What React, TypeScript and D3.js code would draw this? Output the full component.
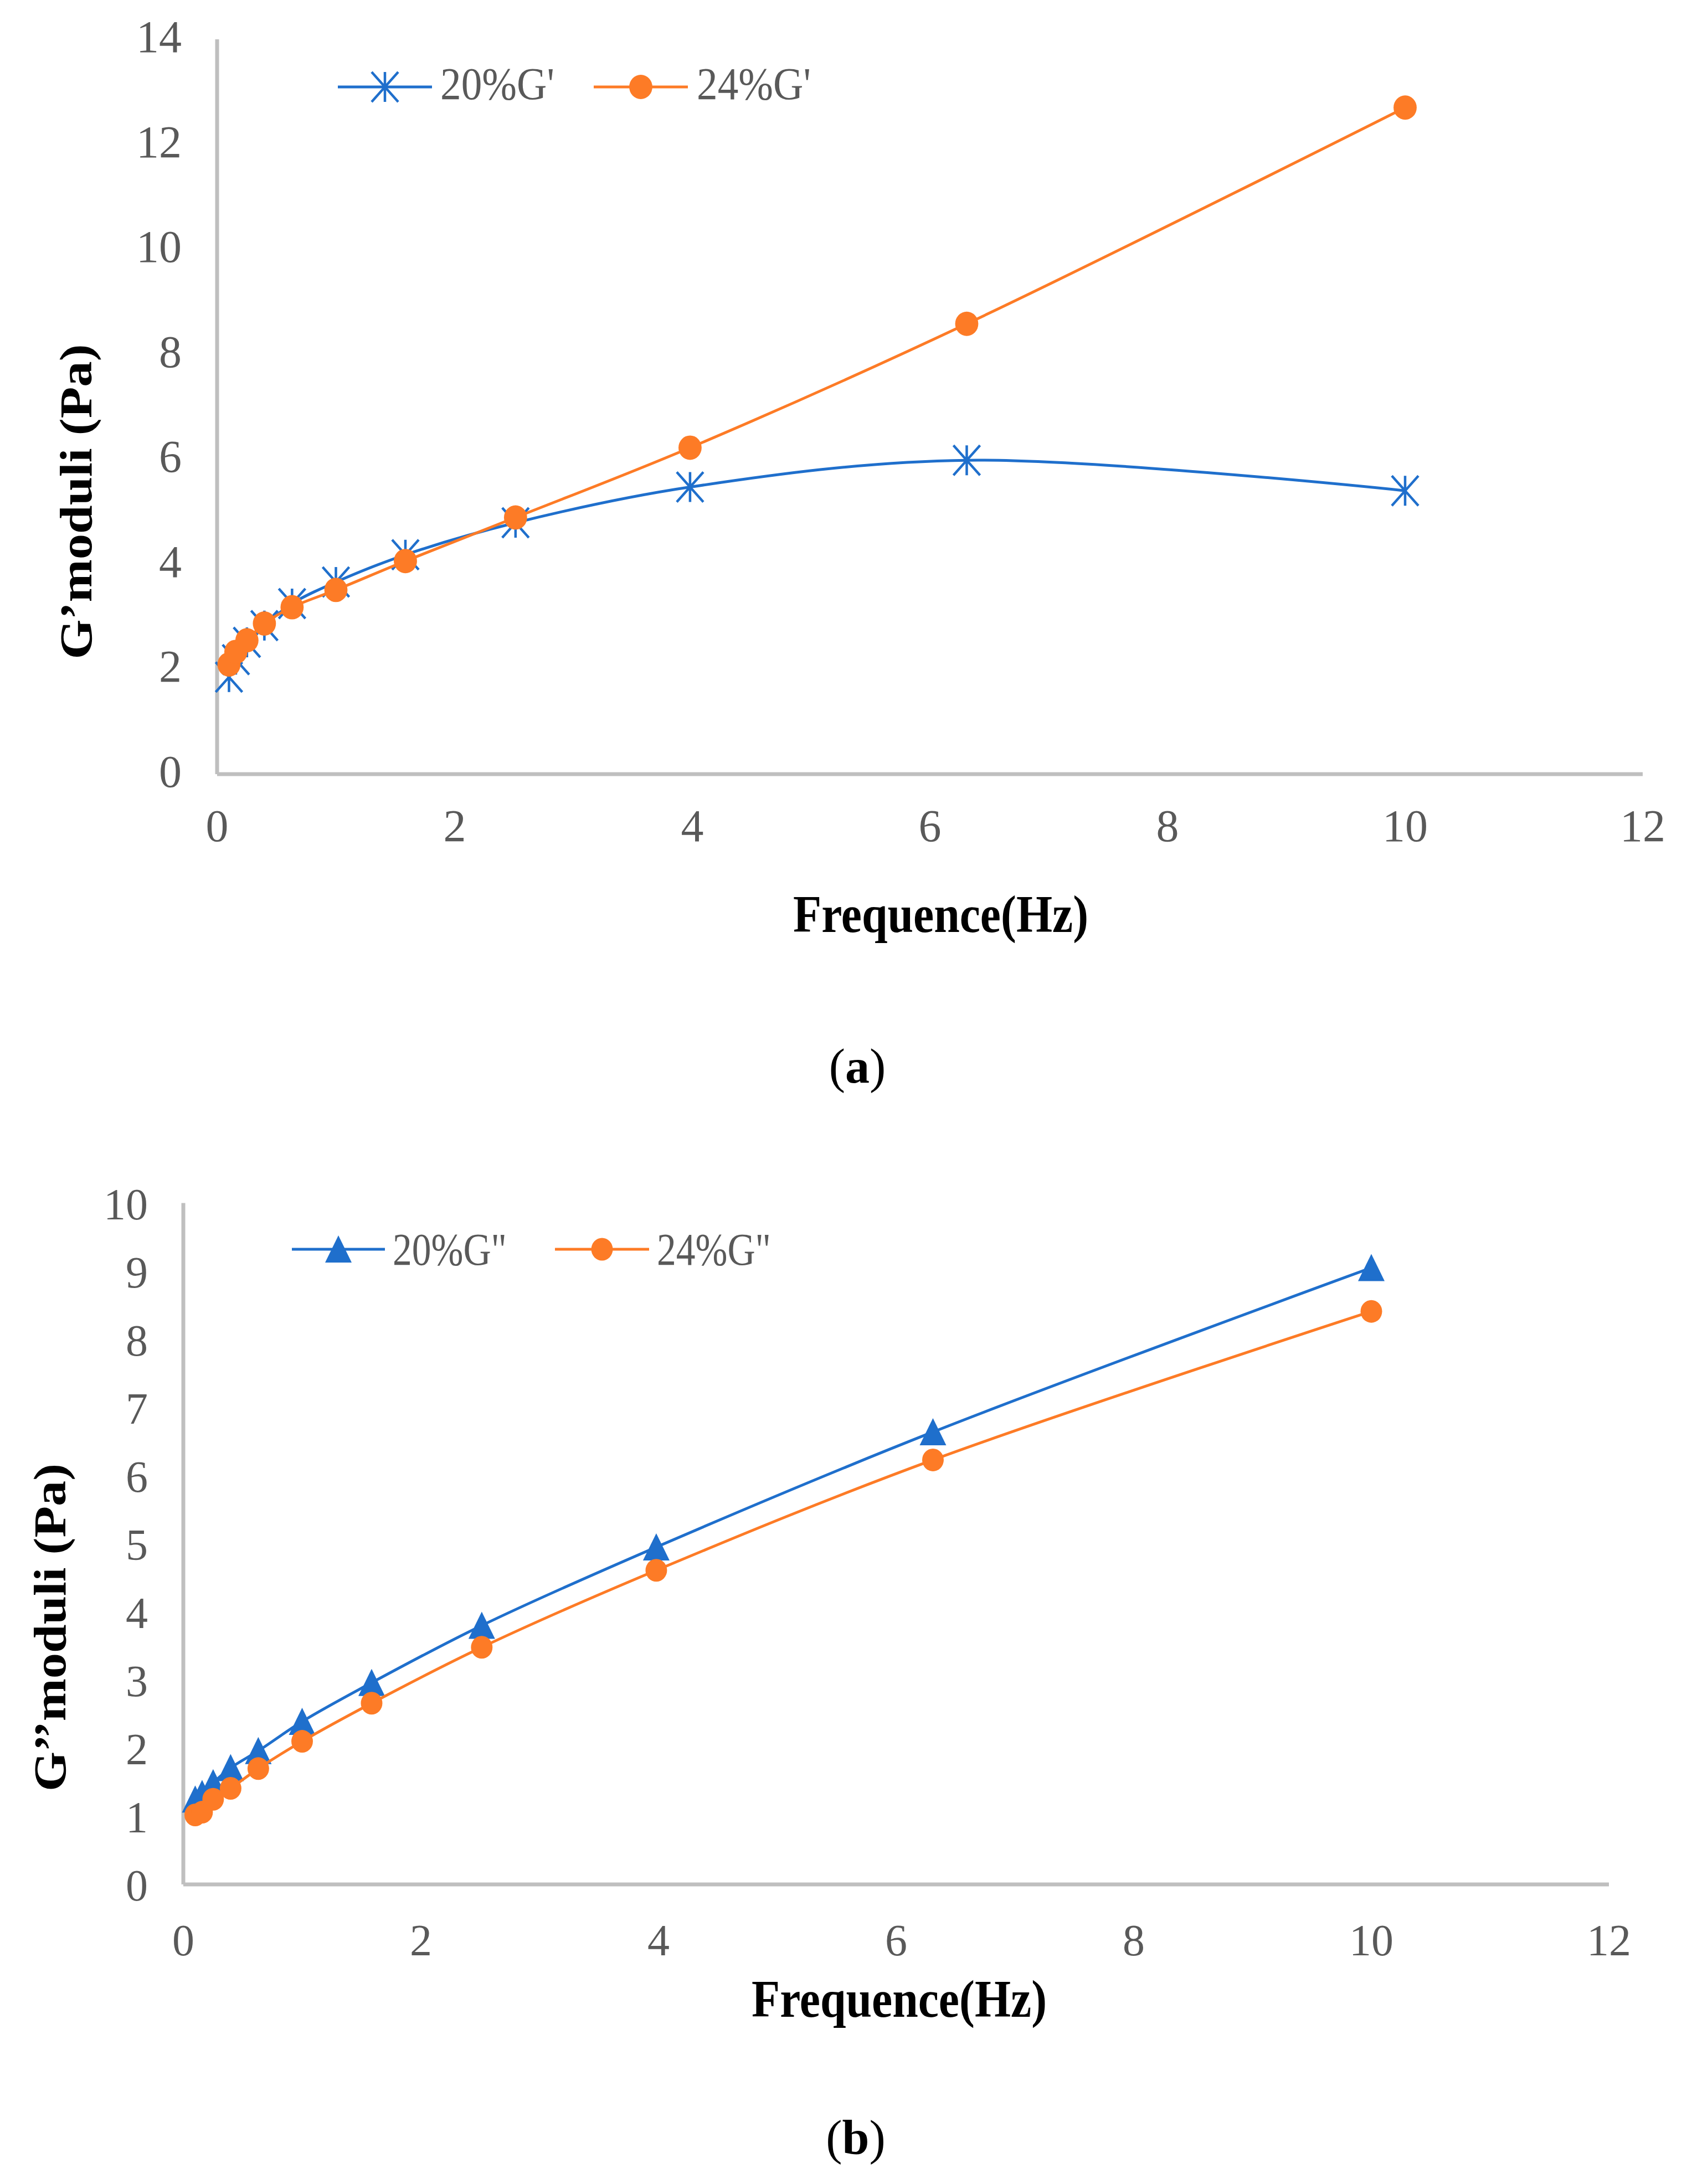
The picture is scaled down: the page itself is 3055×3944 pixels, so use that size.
import React from 'react';
import * as d3 from 'd3';

// Frequency sweep (Hz) shared by both panels
const frequency = [0.1, 0.158, 0.251, 0.398, 0.631, 1, 1.585, 2.512, 3.981, 6.31, 10];

// (a) storage modulus G'
const storage20 = [1.85, 2.18, 2.51, 2.83, 3.25, 3.66, 4.18, 4.79, 5.47, 5.98, 5.4];
const storage24 = [2.09, 2.33, 2.55, 2.87, 3.18, 3.51, 4.06, 4.89, 6.22, 8.58, 12.7];

// (b) loss modulus G''
const loss20 = [1.25, 1.33, 1.49, 1.71, 1.96, 2.39, 2.96, 3.8, 4.95, 6.64, 9.05];
const loss24 = [1.02, 1.06, 1.25, 1.41, 1.7, 2.1, 2.66, 3.48, 4.61, 6.23, 8.41];

const xTicks = [0, 2, 4, 6, 8, 10, 12];
const storageTicks = [0, 2, 4, 6, 8, 10, 12, 14];
const lossTicks = [0, 1, 2, 3, 4, 5, 6, 7, 8, 9, 10];

const BLUE = '#1f6fcc';
const ORANGE = '#fd7b26';
const AXIS = '#bfbfbf';
const TICK = '#595959';
const SERIF = '"Liberation Serif", "Times New Roman", serif';

type Marker = 'star' | 'circle' | 'triangle';

interface Series {
  values: number[];
  color: string;
  marker: Marker;
  label: string;
  legendLine: [number, number];
  legendText: number;
}

interface PanelProps {
  x0: number;
  x1: number;
  y0: number;
  y1: number;
  yMax: number;
  yTicks: number[];
  series: Series[];
  tickSize: number;
  yLabelRight: number;
  yLabelShift: number;
  xLabelBaseline: number;
  yTitle: string;
  yTitlePos: [number, number];
  yTitleLen: number;
  xTitleStart: number;
  xTitleBaseline: number;
  legendY: number;
  legendBaseline: number;
  caption: string;
  captionPos: [number, number];
  dotR: number;
}

function drawMarker(kind: Marker, x: number, y: number, color: string, r: number, key: string) {
  if (kind === 'star') {
    return (
      <path
        key={key}
        transform={`translate(${x},${y})`}
        d="M0,-27V27M-24,-27L24,27M-24,27L24,-27"
        stroke={color}
        strokeWidth={4.5}
        fill="none"
      />
    );
  }
  if (kind === 'triangle') {
    return <path key={key} transform={`translate(${x},${y})`} d="M0,-25L24,24L-24,24Z" fill={color} />;
  }
  return <ellipse key={key} cx={x} cy={y} rx={r * 0.95} ry={r} fill={color} />;
}

const Panel: React.FC<PanelProps> = (p) => {
  const x = d3.scaleLinear().domain([0, 12]).range([p.x0, p.x1]);
  const y = d3.scaleLinear().domain([0, p.yMax]).range([p.y0, p.y1]);
  const line = d3
    .line<number>()
    .x((_, i) => x(frequency[i]))
    .y((d) => y(d))
    .curve(d3.curveCatmullRom.alpha(0.5));

  return (
    <g>
      {/* axes */}
      <line x1={p.x0} x2={p.x0} y1={p.y0} y2={y(p.yMax)} stroke={AXIS} strokeWidth={7} />
      <line x1={p.x0} x2={p.x1} y1={p.y0} y2={p.y0} stroke={AXIS} strokeWidth={7} />

      {p.yTicks.map((t) => (
        <text
          key={`y${t}`}
          x={p.yLabelRight}
          y={y(t) + p.yLabelShift}
          textAnchor="end"
          fontFamily={SERIF}
          fontSize={p.tickSize}
          fill={TICK}
        >
          {t}
        </text>
      ))}
      {xTicks.map((t) => (
        <text
          key={`x${t}`}
          x={x(t)}
          y={p.xLabelBaseline}
          textAnchor="middle"
          fontFamily={SERIF}
          fontSize={p.tickSize}
          fill={TICK}
        >
          {t}
        </text>
      ))}

      {/* series */}
      {p.series.map((s) => (
        <g key={s.label}>
          <path d={line(s.values) || ''} fill="none" stroke={s.color} strokeWidth={5} />
          {s.values.map((v, i) => drawMarker(s.marker, x(frequency[i]), y(v), s.color, p.dotR, `${s.label}${i}`))}
        </g>
      ))}

      {/* legend */}
      {p.series.map((s) => {
        const mid = (s.legendLine[0] + s.legendLine[1]) / 2;
        return (
          <g key={`lg${s.label}`}>
            <line x1={s.legendLine[0]} x2={s.legendLine[1]} y1={p.legendY} y2={p.legendY} stroke={s.color} strokeWidth={5} />
            {drawMarker(s.marker, mid, p.legendY, s.color, p.dotR, `lgm${s.label}`)}
            <text
              x={s.legendText}
              y={p.legendBaseline}
              fontFamily={SERIF}
              fontSize={82}
              fill={TICK}
              textLength={206}
              lengthAdjust="spacingAndGlyphs"
            >
              {s.label}
            </text>
          </g>
        );
      })}

      {/* axis titles */}
      <text
        transform={`translate(${p.yTitlePos[0]},${p.yTitlePos[1]}) scale(0.88,1) rotate(-90)`}
        textAnchor="middle"
        fontFamily={SERIF}
        fontWeight="bold"
        fontSize={93}
        textLength={p.yTitleLen}
        lengthAdjust="spacingAndGlyphs"
      >
        {p.yTitle}
      </text>
      <text
        x={p.xTitleStart}
        y={p.xTitleBaseline}
        fontFamily={SERIF}
        fontWeight="bold"
        fontSize={96}
        textLength={533}
        lengthAdjust="spacingAndGlyphs"
      >
        Frequence(Hz)
      </text>

      <text x={p.captionPos[0]} y={p.captionPos[1]} textAnchor="middle" fontFamily={SERIF} fontSize={88}>
        (<tspan fontWeight="bold">{p.caption}</tspan>)
      </text>
    </g>
  );
};

export default function App() {
  return (
    <div>
      <style>{'body{margin:0;background:#fff}'}</style>
      <svg width={3055} height={3944} viewBox="0 0 3055 3944" style={{ display: 'block', background: '#fff' }}>
        <Panel
          x0={392}
          x1={2966}
          y0={1398}
          y1={71}
          yMax={14}
          yTicks={storageTicks}
          tickSize={82}
          yLabelRight={328}
          yLabelShift={23}
          xLabelBaseline={1519}
          yTitle={'G\u2019moduli (Pa)'}
          yTitlePos={[165, 906]}
          yTitleLen={569}
          xTitleStart={1432}
          xTitleBaseline={1683}
          legendY={157}
          legendBaseline={179}
          caption="a"
          captionPos={[1548, 1955]}
          dotR={22}
          series={[
            { values: storage20, color: BLUE, marker: 'star', label: "20%G'", legendLine: [610, 780], legendText: 795 },
            { values: storage24, color: ORANGE, marker: 'circle', label: "24%G'", legendLine: [1072, 1242], legendText: 1258 },
          ]}
        />
        <Panel
          x0={331}
          x1={2905}
          y0={3403}
          y1={2172.5}
          yMax={10}
          yTicks={lossTicks}
          tickSize={80}
          yLabelRight={267}
          yLabelShift={29}
          xLabelBaseline={3531}
          yTitle={'G\u2019\u2019moduli (Pa)'}
          yTitlePos={[118, 2939]}
          yTitleLen={592}
          xTitleStart={1357}
          xTitleBaseline={3642}
          legendY={2256}
          legendBaseline={2284}
          caption="b"
          captionPos={[1545, 3890]}
          dotR={20.5}
          series={[
            { values: loss20, color: BLUE, marker: 'triangle', label: '20%G"', legendLine: [527, 695], legendText: 709 },
            { values: loss24, color: ORANGE, marker: 'circle', label: '24%G"', legendLine: [1002, 1172], legendText: 1186 },
          ]}
        />
      </svg>
    </div>
  );
}
